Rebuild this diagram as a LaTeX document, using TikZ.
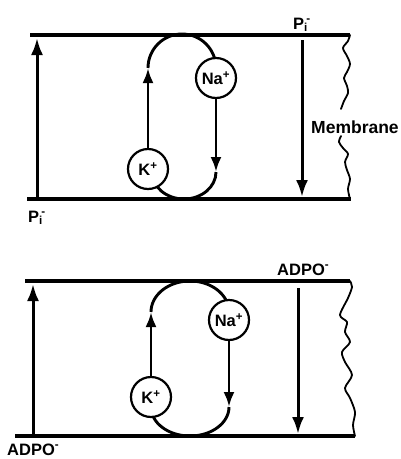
\documentclass[tikz,border=0pt]{standalone}
\usepackage{fontspec}
\setmainfont{Liberation Sans}
\usetikzlibrary{arrows.meta}
\begin{document}
\begin{tikzpicture}[x=1pt,y=1pt,
  memb/.style={line width=3.3pt},
  bigarrow/.style={line width=3pt,-{Latex[length=17pt,width=12pt]}},
  loopline/.style={line width=2.9pt},
  looparrow/.style={line width=2.9pt,-{Latex[length=15pt,width=11pt]}},
  ion/.style={circle,draw,line width=2.2pt,fill=white,minimum size=40pt,inner sep=0pt,font=\fontsize{16.5}{18}\selectfont\bfseries},
  lbl/.style={inner sep=0pt,font=\fontsize{16.5}{18}\selectfont\bfseries},
  wave/.style={line width=1.8pt,line cap=round,line join=round}]
\useasboundingbox (0,0) rectangle (401,-459);
% ---------- top panel ----------
\coordinate (t1L) at (30,-35);  \coordinate (t1R) at (350,-35);
\coordinate (b1L) at (27,-199); \coordinate (b1R) at (351,-199);
\draw[memb] (t1L) -- (t1R);
\draw[memb] (b1L) -- (b1R);
\coordinate (a1s) at (37,-199); \coordinate (a1e) at (37,-38);
\coordinate (a2s) at (302,-40); \coordinate (a2e) at (302,-197);
\draw[bigarrow] (a1s) -- (a1e);
\draw[bigarrow] (a2s) -- (a2e);
\coordinate (l1a) at (148,-68);
\coordinate (l1b) at (216,-172);
\draw[loopline] (l1a) arc[start angle=180,end angle=0,x radius=34,y radius=34];
\draw[loopline] (l1b) arc[start angle=0,end angle=-180,x radius=32,y radius=27];
\node[ion] (Na1) at (216,-78) {Na\textsuperscript{+}};
\node[ion] (K1) at (148,-169) {K\textsuperscript{+}};
\draw[looparrow] (K1.north) -- (l1a);
\draw[looparrow] (Na1.south) -- (l1b);
\draw[wave] plot[smooth] coordinates {(350,-35) (348,-41) (343,-48) (347,-56) (350,-64) (347,-72) (344,-78) (347,-86) (348,-93) (344,-101) (341,-109)};
\draw[wave] plot[smooth] coordinates {(341,-136) (339,-142) (343,-148) (348,-154) (345,-162) (347,-170) (350,-179) (348,-189) (350,-199)};
\node[lbl,anchor=base west] (P1t) at (293,-29) {P\textsubscript{i}\kern-1.5pt\textsuperscript{-}};
\node[lbl,anchor=base west] (P1b) at (28,-222) {P\textsubscript{i}\kern-1.5pt\textsuperscript{-}};
\node[lbl,anchor=base west,font=\fontsize{17.5}{20}\selectfont\bfseries] (mem) at (311,-133) {Membrane};
% ---------- bottom panel ----------
\coordinate (t2L) at (25,-281);  \coordinate (t2R) at (350,-281);
\coordinate (b2L) at (15,-436);  \coordinate (b2R) at (355,-436);
\draw[memb] (t2L) -- (t2R);
\draw[memb] (b2L) -- (b2R);
\coordinate (a3s) at (33,-434); \coordinate (a3e) at (33,-284);
\coordinate (a4s) at (298,-288); \coordinate (a4e) at (298,-434);
\draw[bigarrow] (a3s) -- (a3e);
\draw[bigarrow] (a4s) -- (a4e);
\coordinate (l2a) at (151,-312);
\coordinate (l2b) at (229,-407);
\draw[loopline] (l2a) arc[start angle=180,end angle=0,x radius=39,y radius=31];
\draw[loopline] (l2b) arc[start angle=0,end angle=-180,x radius=39,y radius=29];
\node[ion] (Na2) at (229,-320) {Na\textsuperscript{+}};
\node[ion] (K2) at (151,-397) {K\textsuperscript{+}};
\draw[looparrow] (K2.north) -- (l2a);
\draw[looparrow] (Na2.south) -- (l2b);
\draw[wave] plot[smooth] coordinates {(350,-281) (352,-287) (348,-298) (340,-315) (347,-322) (345,-332) (350,-342) (342,-352) (345,-362) (352,-375) (345,-388) (350,-398) (355,-412) (353,-425) (355,-436)};
\node[lbl,anchor=base west] (A2t) at (277,-275) {ADPO\textsuperscript{-}};
\node[lbl,anchor=base west] (A2b) at (7,-455) {ADPO\textsuperscript{-}};
\end{tikzpicture}
\end{document}
